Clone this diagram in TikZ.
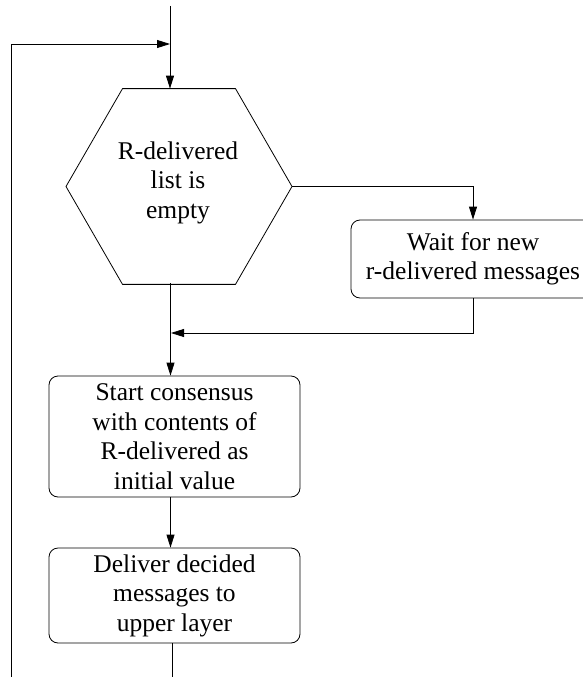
\documentclass[tikz,border=0pt]{standalone}
\usepackage{fontspec}
\setmainfont{Liberation Serif}
\usetikzlibrary{arrows.meta,shapes.geometric}
\begin{document}
\begin{tikzpicture}[x=1pt,y=-1pt,
  flow/.style={line width=0.8pt,-{Triangle[length=13pt,width=8pt]}},
  plain/.style={line width=0.8pt},
  txt/.style={font=\fontsize{25.5}{29.5}\selectfont, align=center, inner sep=0pt},
  procbox/.style={draw,line width=0.8pt,rounded corners=9pt,txt},
  hexa/.style={draw,line width=0.8pt,regular polygon,regular polygon sides=6,minimum size=226pt,inner sep=0pt,outer sep=0pt}]
\clip (0,0) rectangle (583,677);
\node[hexa] (hex) at (179,186.5) {};
\node[txt] (hext) at (178,182.5) {R-delivered\\list is\\empty};
\node[procbox, minimum width=244pt, minimum height=78pt] (wait) at (473,259) {Wait for new\\r-delivered messages};
\node[procbox, minimum width=251pt, minimum height=121pt] (start) at (174.5,436.5) {Start consensus\\with contents of\\R-delivered as\\initial value};
\node[procbox, minimum width=251pt, minimum height=95pt] (deliver) at (174.5,595.5) {Deliver decided\\messages to\\upper layer};
\coordinate (topin) at (170,6);
\coordinate (loopstart) at (11,677);
\coordinate (loopcorner) at (11,44);
\coordinate (loopin) at (170,44);
\coordinate (mergein) at (171,333);
\coordinate (hexout) at (170.5,283);
\coordinate (botout) at (172,677);
\draw[flow] (topin) -- (topin |- hex.north);
\draw[flow] (loopstart) -- (loopcorner) -- (loopin);
\draw[flow] (hex.east) -| (wait.north);
\draw[flow] (wait.south) |- (mergein);
\draw[flow] (hexout) -- (hexout |- start.north);
\draw[flow] (start.south -| hexout) -- (deliver.north -| hexout);
\draw[plain] (deliver.south -| botout) -- (botout);
\end{tikzpicture}
\end{document}
